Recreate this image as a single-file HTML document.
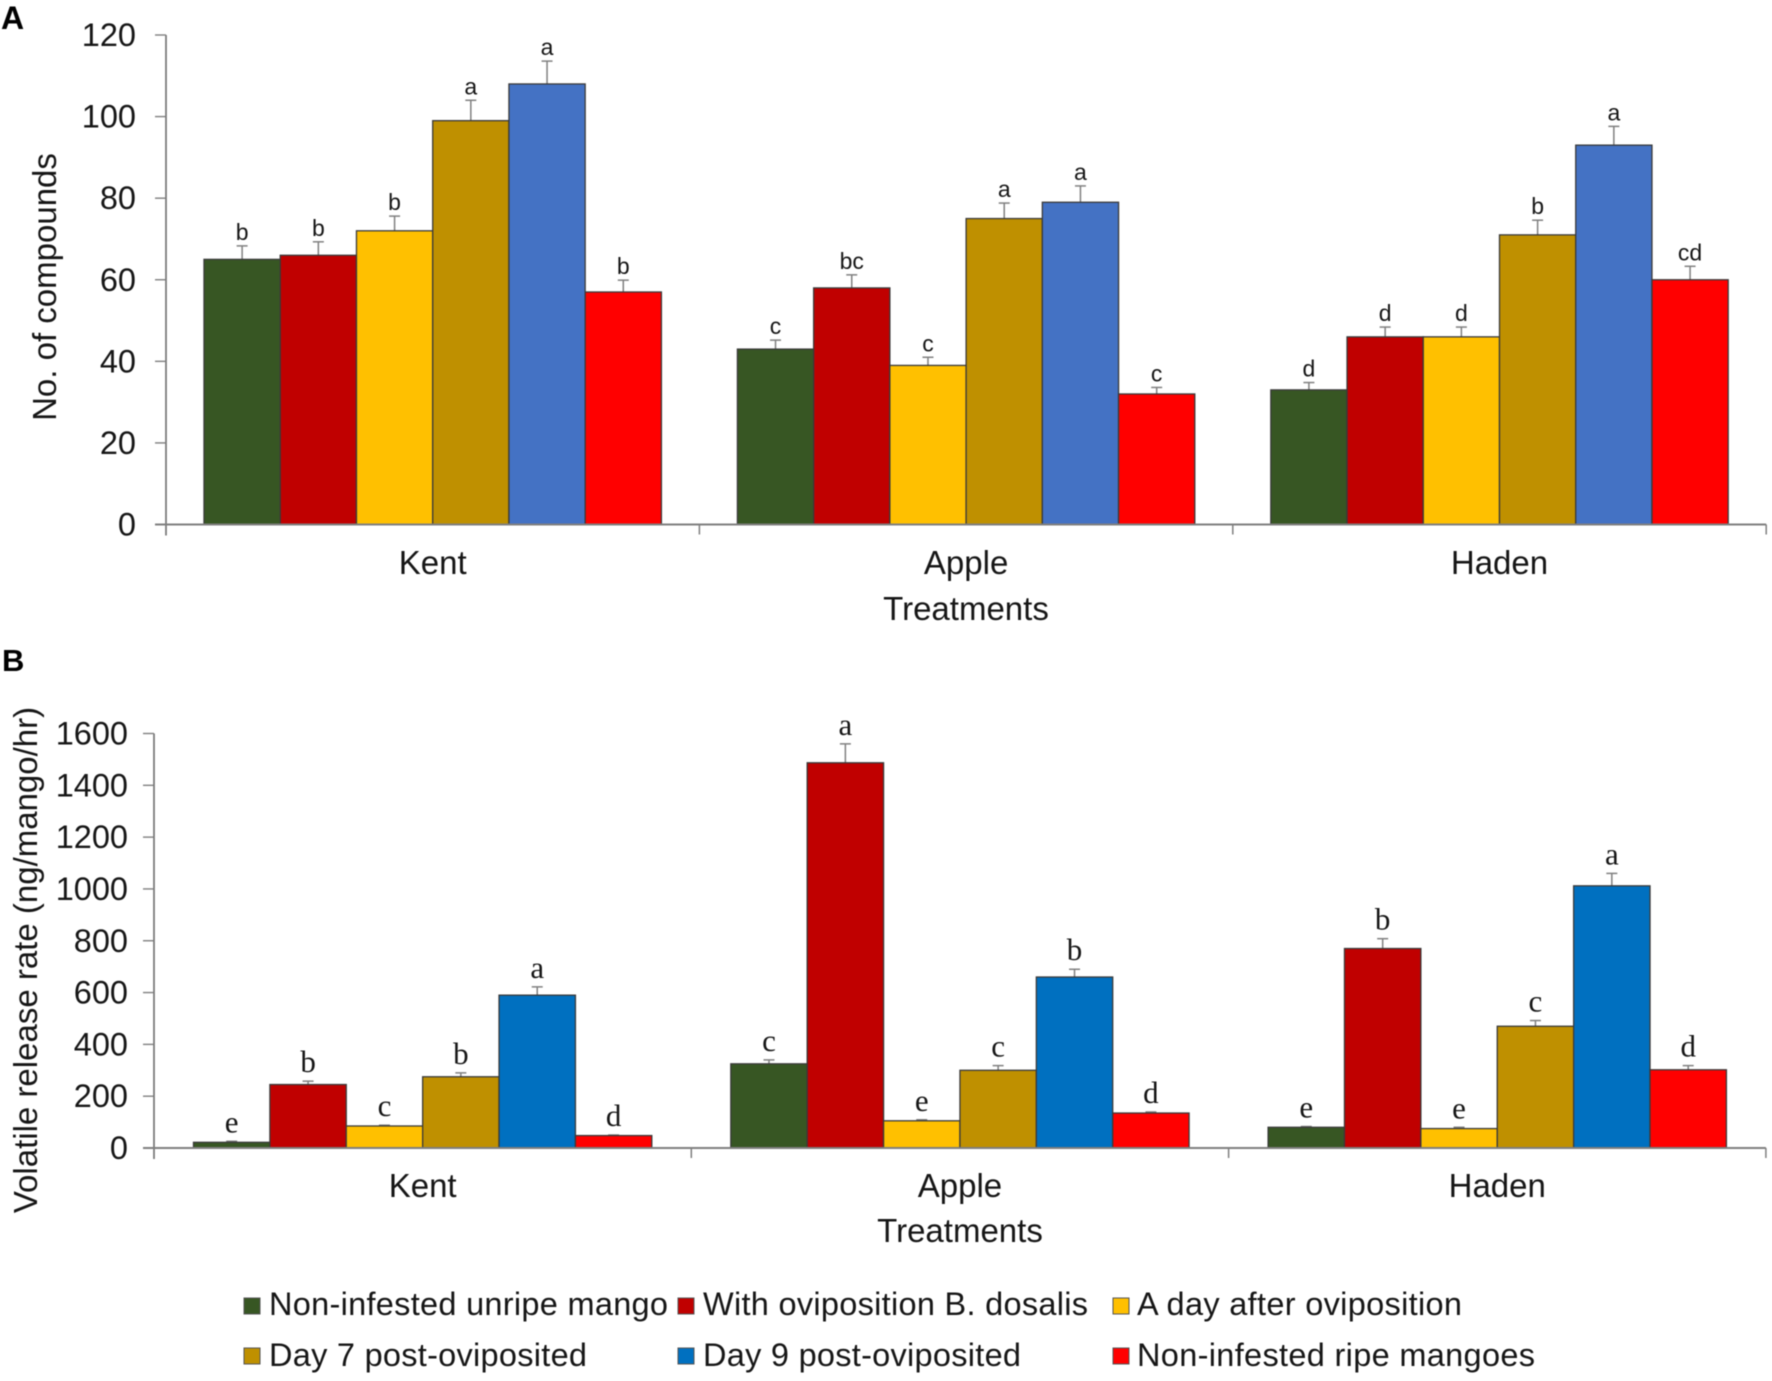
<!DOCTYPE html>
<html lang="en">
<head>
<meta charset="utf-8">
<title>Mango volatile compounds</title>
<style>
html,body{margin:0;padding:0;background:#fff;width:1772px;height:1381px;overflow:hidden}
svg{display:block;filter:blur(.5px)}
text{font-family:"Liberation Sans",Arial,sans-serif;fill:#161616}
</style>
</head>
<body>
<svg id="figure" xmlns="http://www.w3.org/2000/svg" width="1772" height="1381" viewBox="0 0 1772 1381">
<rect width="1772" height="1381" fill="#fff"/>
<text x="1" y="29" font-size="32" font-weight="bold" style="fill:#000">A</text>
<text x="2" y="671" font-size="31" font-weight="bold" style="fill:#000">B</text>
<g id="panel-a"></g>
<g id="panel-b"></g>
<g id="legend">
<g><rect x="244" y="1298" width="16" height="16" fill="#375623" stroke="#555" stroke-width="1"/><text x="269" y="1315" font-size="32.5" textLength="399" lengthAdjust="spacing">Non-infested unripe mango</text></g>
<g><rect x="678" y="1298" width="16" height="16" fill="#C00000" stroke="#555" stroke-width="1"/><text x="703" y="1315" font-size="32.5" textLength="385" lengthAdjust="spacing">With oviposition B. dosalis</text></g>
<g><rect x="1113" y="1298" width="16" height="16" fill="#FFC000" stroke="#555" stroke-width="1"/><text x="1137" y="1315" font-size="32.5" textLength="325" lengthAdjust="spacing">A day after oviposition</text></g>
<g><rect x="244" y="1348" width="16" height="16" fill="#BF9000" stroke="#555" stroke-width="1"/><text x="269" y="1366" font-size="32.5" textLength="318" lengthAdjust="spacing">Day 7 post-oviposited</text></g>
<g><rect x="678" y="1348" width="16" height="16" fill="#0070C0" stroke="#555" stroke-width="1"/><text x="703" y="1366" font-size="32.5" textLength="318" lengthAdjust="spacing">Day 9 post-oviposited</text></g>
<g><rect x="1113" y="1348" width="16" height="16" fill="#FF0000" stroke="#555" stroke-width="1"/><text x="1137" y="1366" font-size="32.5" textLength="398" lengthAdjust="spacing">Non-infested ripe mangoes</text></g>
</g>
</svg>
<script>
const categories = ['Kent', 'Apple', 'Haden'];
const seriesKeys = ['non-infested-unripe', 'with-oviposition', 'day-after-oviposition', 'day-7', 'day-9', 'non-infested-ripe'];

const ticksA = [0, 20, 40, 60, 80, 100, 120];
const compoundsUnripe = [65, 43, 33];
const compoundsOviposition = [66, 58, 46];
const compoundsDayAfter = [72, 39, 46];
const compoundsDay7 = [99, 75, 71];
const compoundsDay9 = [108, 79, 93];
const compoundsRipe = [57, 32, 60];
const compoundsErrUnripe = [3.3, 2.2, 1.8];
const compoundsErrOviposition = [3.3, 3.2, 2.4];
const compoundsErrDayAfter = [3.6, 2.0, 2.4];
const compoundsErrDay7 = [5.0, 3.8, 3.6];
const compoundsErrDay9 = [5.6, 4.0, 4.6];
const compoundsErrRipe = [2.9, 1.6, 3.3];
const compoundsLettersUnripe = ['b', 'c', 'd'];
const compoundsLettersOviposition = ['b', 'bc', 'd'];
const compoundsLettersDayAfter = ['b', 'c', 'd'];
const compoundsLettersDay7 = ['a', 'a', 'b'];
const compoundsLettersDay9 = ['a', 'a', 'a'];
const compoundsLettersRipe = ['b', 'c', 'cd'];

const ticksB = [0, 200, 400, 600, 800, 1000, 1200, 1400, 1600];
const releaseUnripe = [22, 325, 80];
const releaseOviposition = [245, 1487, 770];
const releaseDayAfter = [85, 105, 75];
const releaseDay7 = [275, 300, 470];
const releaseDay9 = [590, 660, 1012];
const releaseRipe = [48, 135, 302];
const releaseErrUnripe = [4, 15, 3];
const releaseErrOviposition = [13, 73, 38];
const releaseErrDayAfter = [3, 4, 5];
const releaseErrDay7 = [15, 18, 22];
const releaseErrDay9 = [32, 30, 48];
const releaseErrRipe = [2, 4, 16];
const releaseLettersUnripe = ['e', 'c', 'e'];
const releaseLettersOviposition = ['b', 'a', 'b'];
const releaseLettersDayAfter = ['c', 'e', 'e'];
const releaseLettersDay7 = ['b', 'c', 'c'];
const releaseLettersDay9 = ['a', 'b', 'a'];
const releaseLettersRipe = ['d', 'd', 'd'];

const NS = 'http://www.w3.org/2000/svg';

function make(parent, tag, attrs, content) {
  const el = document.createElementNS(NS, tag);
  for (const k in attrs) el.setAttribute(k, attrs[k]);
  if (content !== undefined) el.textContent = content;
  parent.appendChild(el);
  return el;
}

function drawPanel(root, cfg) {
  const yScale = v => cfg.y0 - (v / cfg.max) * (cfg.y0 - cfg.yTop);
  const catX = i => cfg.x0 + i * cfg.catW;
  const barW = (cfg.catW - 2 * cfg.pad) / cfg.values.length;
  const barX = (c, s) => catX(c) + cfg.pad + s * barW;
  const axisColor = '#7f7f7f';

  const yAxis = make(root, 'line', {x1: cfg.x0, x2: cfg.x0, y1: yScale(cfg.max), y2: cfg.y0 + 11, stroke: '#6d6d6d', 'stroke-width': 1.6});
  
  

  const yTitle = make(root, 'text', {transform: 'translate(' + cfg.titleX + ',' + cfg.titleY + ') rotate(-90)', 'text-anchor': 'middle', 'font-size': 33}, cfg.yTitle);
  
  

  cfg.ticks.forEach(t => {
    const tick = make(root, 'line', {x1: cfg.x0 - 11, x2: cfg.x0, y1: yScale(t), y2: yScale(t), stroke: axisColor, 'stroke-width': 1.4});
    
    
    const label = make(root, 'text', {x: cfg.tickLabelX, y: yScale(t) + 11, 'text-anchor': 'end', 'font-size': 32.5}, String(t));
    
    
  });

  categories.forEach((name, c) => {
    cfg.values.forEach((vals, s) => {
      const v = vals[c];
      const top = yScale(v);
      const cx = barX(c, s) + barW / 2;
      const errTop = yScale(v + cfg.errors[s][c]);

      const stem = make(root, 'line', {x1: cx, x2: cx, y1: top, y2: errTop, stroke: '#808080', 'stroke-width': 1.5});
      
      
      const cap = make(root, 'line', {x1: cx - 5.5, x2: cx + 5.5, y1: errTop, y2: errTop, stroke: '#808080', 'stroke-width': 1.5});
      
      

      const bar = make(root, 'rect', {x: barX(c, s), y: top, width: barW, height: cfg.y0 - top, fill: cfg.colors[s], stroke: '#3a3a3a', 'stroke-width': 1.3});
      
      

      const letter = make(root, 'text', {x: cx, y: errTop - cfg.letterGap, 'text-anchor': 'middle', 'font-size': cfg.letterSize, style: 'font-family:' + cfg.letterFont}, cfg.letters[s][c]);
      
      
    });
  });

  const xAxis = make(root, 'line', {x1: cfg.x0 - 11, x2: catX(categories.length), y1: cfg.y0, y2: cfg.y0, stroke: axisColor, 'stroke-width': 2});
  
  

  for (let i = 1; i <= categories.length; i++) {
    const xt = make(root, 'line', {x1: catX(i), x2: catX(i), y1: cfg.y0, y2: cfg.y0 + 10, stroke: axisColor, 'stroke-width': 1.5});
    
    
  }

  categories.forEach((name, c) => {
    const label = make(root, 'text', {x: catX(c) + cfg.catW / 2, y: cfg.catLabelY, 'text-anchor': 'middle', 'font-size': 33}, name);
    
    
  });

  const xTitle = make(root, 'text', {x: cfg.xTitleX, y: cfg.xTitleY, 'text-anchor': 'middle', 'font-size': 33}, 'Treatments');
  
  
}

drawPanel(document.getElementById('panel-a'), {
  x0: 166, catW: 533.4, pad: 38, y0: 524.5, yTop: 35, max: 120,
  ticks: ticksA,
  values: [compoundsUnripe, compoundsOviposition, compoundsDayAfter, compoundsDay7, compoundsDay9, compoundsRipe],
  errors: [compoundsErrUnripe, compoundsErrOviposition, compoundsErrDayAfter, compoundsErrDay7, compoundsErrDay9, compoundsErrRipe],
  letters: [compoundsLettersUnripe, compoundsLettersOviposition, compoundsLettersDayAfter, compoundsLettersDay7, compoundsLettersDay9, compoundsLettersRipe],
  colors: ['#375623', '#C00000', '#FFC000', '#BF9000', '#4472C4', '#FF0000'],
  yTitle: 'No. of compounds', titleX: 56, titleY: 287, tickLabelX: 136,
  catLabelY: 574, xTitleX: 966, xTitleY: 620,
  letterGap: 6, letterSize: 23, letterFont: '"Liberation Sans",sans-serif'
});

drawPanel(document.getElementById('panel-b'), {
  x0: 154, catW: 537.3, pad: 39.5, y0: 1148, yTop: 733.5, max: 1600,
  ticks: ticksB,
  values: [releaseUnripe, releaseOviposition, releaseDayAfter, releaseDay7, releaseDay9, releaseRipe],
  errors: [releaseErrUnripe, releaseErrOviposition, releaseErrDayAfter, releaseErrDay7, releaseErrDay9, releaseErrRipe],
  letters: [releaseLettersUnripe, releaseLettersOviposition, releaseLettersDayAfter, releaseLettersDay7, releaseLettersDay9, releaseLettersRipe],
  colors: ['#375623', '#C00000', '#FFC000', '#BF9000', '#0070C0', '#FF0000'],
  yTitle: 'Volatile release rate (ng/mango/hr)', titleX: 37, titleY: 960, tickLabelX: 128,
  catLabelY: 1197, xTitleX: 960, xTitleY: 1242,
  letterGap: 9, letterSize: 31, letterFont: '"Liberation Serif",serif'
});
</script>
</body>
</html>
